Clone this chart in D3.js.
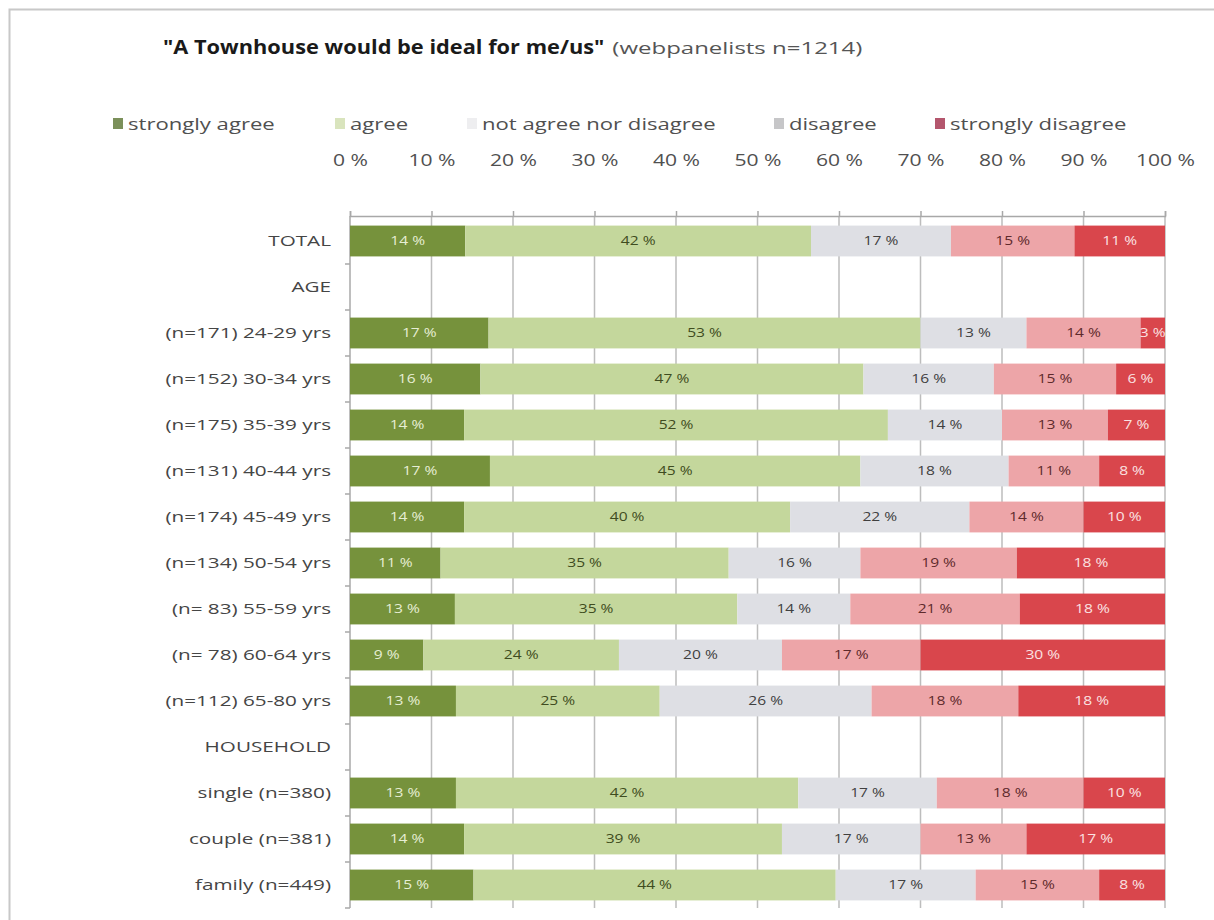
<!DOCTYPE html>
<html>
<head>
<meta charset="utf-8">
<script src="https://cdn.jsdelivr.net/npm/d3@7"></script>
<style>
  html, body { margin: 0; padding: 0; background: #fff; }
  svg { display: block; font-family: "Open Sans", "Liberation Sans", sans-serif; }
</style>
</head>
<body>
<svg id="chart" width="1214" height="920"></svg>
<script>
// Survey rows, top to bottom ("AGE" and "HOUSEHOLD" are section headers without data)
const categories = [
  "TOTAL", "AGE",
  "(n=171) 24-29 yrs", "(n=152) 30-34 yrs", "(n=175) 35-39 yrs", "(n=131) 40-44 yrs",
  "(n=174) 45-49 yrs", "(n=134) 50-54 yrs", "(n= 83) 55-59 yrs", "(n= 78) 60-64 yrs",
  "(n=112) 65-80 yrs",
  "HOUSEHOLD",
  "single (n=380)", "couple (n=381)", "family (n=449)"
];

const seriesNames = ["strongly agree", "agree", "not agree nor disagree", "disagree", "strongly disagree"];

// Percent answering each option, per row (null = header row)
const stronglyAgree    = [14, null, 17, 16, 14, 17, 14, 11, 13,  9, 13, null, 13, 14, 15];
const agree            = [42, null, 53, 47, 52, 45, 40, 35, 35, 24, 25, null, 42, 39, 44];
const neutral          = [17, null, 13, 16, 14, 18, 22, 16, 14, 20, 26, null, 17, 17, 17];
const disagree         = [15, null, 14, 15, 13, 11, 14, 19, 21, 17, 18, null, 18, 13, 15];
const stronglyDisagree = [11, null,  3,  6,  7,  8, 10, 18, 18, 30, 18, null, 10, 17,  8];

const tickValues = [0, 0.1, 0.2, 0.3, 0.4, 0.5, 0.6, 0.7, 0.8, 0.9, 1.0];

const title = "\"A Townhouse would be ideal for me/us\"";
const subtitle = "(webpanelists n=1214)";

// Styling
const barColors    = ["#76923c", "#c4d79c", "#dedfe4", "#eda5a8", "#d9464c"];
const legendColors = ["#7b905a", "#d9e4bd", "#eeeef0", "#c6c6c8", "#b4566d"];
const labelColors  = ["#e6eed4", "#3f4c20", "#404040", "#5e2a2c", "#fbe2e2"];

const svg = d3.select("#chart");
const W = 1214, H = 920;

// Text in this chart is set slightly wide
const wide = (px, py, sx) => `translate(${px},${py}) scale(${sx},1)`;

// Frame around the whole chart
svg.append("rect")
  .attr("x", 9.5).attr("y", 9.5)
  .attr("width", W + 20).attr("height", H + 20)
  .attr("fill", "none").attr("stroke", "#c8c8c8").attr("stroke-width", 2);

// Title
const titleSx = 1.09;
const tTitle = svg.append("text")
  .attr("transform", wide(163, 54, titleSx))
  .attr("font-weight", "bold").attr("font-size", 20).attr("fill", "#1a1a1a")
  .text(title);
const titleW = tTitle.node().getComputedTextLength() * titleSx;
svg.append("text")
  .attr("transform", wide(163 + titleW + 8, 54, 1.5))
  .attr("font-size", 16).attr("fill", "#555")
  .text(subtitle);

// Legend
const legendTextX = [128, 350, 482, 789, 950];
const lg = svg.append("g").attr("class", "legend");
seriesNames.forEach((name, i) => {
  lg.append("rect")
    .attr("x", legendTextX[i] - 15).attr("y", 118)
    .attr("width", 10).attr("height", 11)
    .attr("fill", legendColors[i]);
  lg.append("text")
    .attr("transform", wide(legendTextX[i], 130, 1.3))
    .attr("font-size", 17).attr("fill", "#505050")
    .text(name);
});

// Scales
const x = d3.scaleLinear().domain([0, 1]).range([350, 1165]);
const y = d3.scaleBand().domain(categories).range([218, 908])
  .paddingInner(0.33).paddingOuter(0.165);

// Stack, normalised to 100 %
const rows = categories.map((c, i) => ({
  cat: c,
  "strongly agree": stronglyAgree[i] || 0,
  "agree": agree[i] || 0,
  "not agree nor disagree": neutral[i] || 0,
  "disagree": disagree[i] || 0,
  "strongly disagree": stronglyDisagree[i] || 0
}));
const stack = d3.stack().keys(seriesNames).offset(d3.stackOffsetExpand);
const layers = stack(rows);

// Vertical gridlines
svg.append("g").selectAll("line")
  .data(tickValues.slice(1))
  .join("line")
  .attr("x1", d => x(d)).attr("x2", d => x(d))
  .attr("y1", 216).attr("y2", 908)
  .attr("stroke", "#bdbdbd").attr("stroke-width", 1.5);

// Top axis
const xAxis = d3.axisTop(x)
  .tickValues(tickValues)
  .tickFormat(d => Math.round(d * 100) + " %")
  .tickSize(5).tickPadding(45);
const gx = svg.append("g").attr("transform", "translate(0,216)").call(xAxis);
gx.select(".domain").attr("stroke", "#a8a8a8").attr("stroke-width", 1.5);
gx.selectAll(".tick line").attr("stroke", "#a8a8a8").attr("stroke-width", 1.5);
gx.selectAll(".tick text")
  .attr("font-family", "\"Open Sans\", sans-serif")
  .attr("font-size", 16).attr("fill", "#505050")
  .attr("transform", "scale(1.32,1)");

// Left axis with category labels
const gy = svg.append("g");
gy.append("line")
  .attr("x1", 350).attr("x2", 350).attr("y1", 216).attr("y2", 908)
  .attr("stroke", "#a8a8a8").attr("stroke-width", 1.5);
const boundaries = categories.map(c => y(c) - y.step() * y.paddingInner() / 2);
gy.selectAll("line.tk")
  .data(boundaries.slice(1).concat([908]))
  .join("line").attr("class", "tk")
  .attr("x1", 345).attr("x2", 350)
  .attr("y1", d => d).attr("y2", d => d)
  .attr("stroke", "#a8a8a8").attr("stroke-width", 1.5);
gy.selectAll("text")
  .data(categories)
  .join("text")
  .attr("transform", d => wide(331, y(d) + y.bandwidth() / 2, 1.38))
  .attr("dy", "0.35em")
  .attr("text-anchor", "end")
  .attr("font-size", 15).attr("fill", "#454545")
  .text(d => d);

// Bars
const gBars = svg.append("g");
layers.forEach((layer, si) => {
  const g = gBars.append("g");
  const segs = layer.filter(d => d[1] - d[0] > 0);
  g.selectAll("rect")
    .data(segs)
    .join("rect")
    .attr("x", d => x(d[0]))
    .attr("y", d => y(d.data.cat))
    .attr("width", d => x(d[1]) - x(d[0]))
    .attr("height", y.bandwidth())
    .attr("fill", barColors[si]);
  g.selectAll("text")
    .data(segs)
    .join("text")
    .attr("transform", d => wide((x(d[0]) + x(d[1])) / 2, y(d.data.cat) + y.bandwidth() / 2, 1.3))
    .attr("dy", "0.35em")
    .attr("text-anchor", "middle")
    .attr("font-size", 12)
    .attr("fill", labelColors[si])
    .text(d => d.data[seriesNames[si]] + " %");
});
</script>
</body>
</html>
